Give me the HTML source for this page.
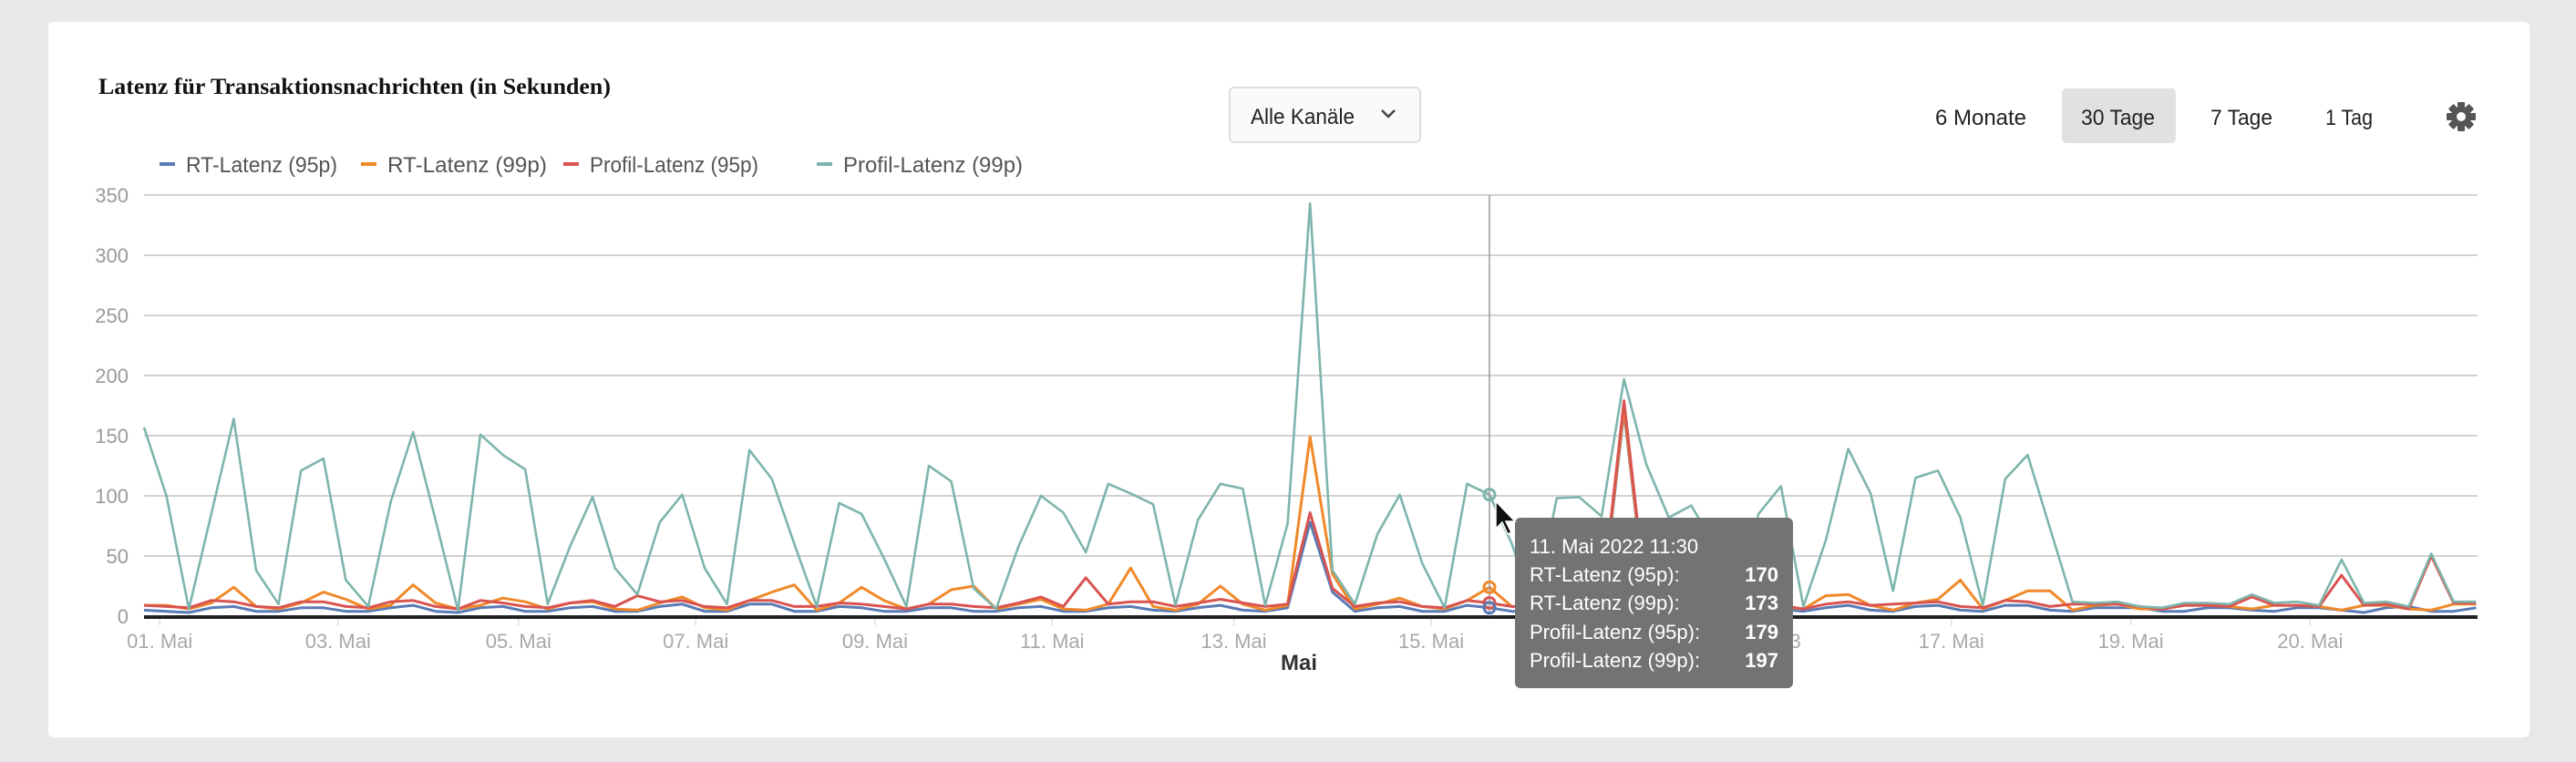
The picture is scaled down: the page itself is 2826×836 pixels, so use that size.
<!DOCTYPE html>
<html><head><meta charset="utf-8">
<style>
html,body{margin:0;padding:0;background:#e8e8e8;}
body{width:2826px;height:836px;position:relative;overflow:hidden;font-family:"Liberation Sans",sans-serif;}
#card{position:absolute;left:53px;top:24px;width:2722px;height:785px;background:#fff;border-radius:6px;}
svg{position:absolute;left:0;top:0;}
</style></head>
<body>
<div id="card"></div>
<svg id="chart" width="2826" height="836">
  <text x="108" y="103" font-family="Liberation Serif, serif" font-weight="bold" font-size="25" fill="#111" textLength="562" lengthAdjust="spacingAndGlyphs">Latenz für Transaktionsnachrichten (in Sekunden)</text>

  <g>
    <rect x="1349" y="96" width="209" height="60" rx="5" fill="#fafafa" stroke="#ddd" stroke-width="2"/>
    <text x="1372" y="136" font-size="24" fill="#222" textLength="114" lengthAdjust="spacingAndGlyphs">Alle Kanäle</text>
    <path d="M1516 121 l7 7 l7 -7" fill="none" stroke="#444" stroke-width="2.5"/>
  </g>

  <g><text x="2123" y="137" font-size="24" fill="#222" textLength="100" lengthAdjust="spacingAndGlyphs">6 Monate</text></g>
  <g><rect x="2262" y="97" width="125" height="60" rx="5" fill="#e1e1e1"/><text x="2283" y="137" font-size="24" fill="#222" textLength="81" lengthAdjust="spacingAndGlyphs">30 Tage</text></g>
  <g><text x="2425" y="137" font-size="24" fill="#222" textLength="68" lengthAdjust="spacingAndGlyphs">7 Tage</text></g>
  <g><text x="2551" y="137" font-size="24" fill="#222" textLength="52" lengthAdjust="spacingAndGlyphs">1 Tag</text></g>
  <g transform="translate(2700,128)">
    <g fill="#555">
      <rect x="-4" y="-16" width="8" height="32" rx="1"/>
      <rect x="-4" y="-16" width="8" height="32" rx="1" transform="rotate(45)"/>
      <rect x="-4" y="-16" width="8" height="32" rx="1" transform="rotate(90)"/>
      <rect x="-4" y="-16" width="8" height="32" rx="1" transform="rotate(135)"/>
      <circle r="11"/>
    </g>
    <circle r="5" fill="#fff"/>
  </g>

  <g id="legend"></g>
  <g id="grid"></g>
  <g id="xlabels"></g>
  <g id="series"></g>
  <g id="hover"></g>

  <g>
    <rect x="1662" y="568" width="305" height="187" rx="6" fill="#737373"/>
    <text x="1678" y="607" font-size="22" fill="#fff">11. Mai 2022 11:30</text>
    <text x="1678" y="638" font-size="22" fill="#fff">RT-Latenz (95p):</text>
    <text x="1951" y="638" font-size="22" fill="#fff" font-weight="bold" text-anchor="end">170</text>
    <text x="1678" y="669" font-size="22" fill="#fff">RT-Latenz (99p):</text>
    <text x="1951" y="669" font-size="22" fill="#fff" font-weight="bold" text-anchor="end">173</text>
    <text x="1678" y="701" font-size="22" fill="#fff">Profil-Latenz (95p):</text>
    <text x="1951" y="701" font-size="22" fill="#fff" font-weight="bold" text-anchor="end">179</text>
    <text x="1678" y="732" font-size="22" fill="#fff">Profil-Latenz (99p):</text>
    <text x="1951" y="732" font-size="22" fill="#fff" font-weight="bold" text-anchor="end">197</text>
  </g>
  <path d="M1641 550 l0 30 l7 -7 l6 13 l4 -2 l-6 -12 l10 0 z" fill="#111" stroke="#fff" stroke-width="1.5"/>
</svg>
<script>
const seriesNames = ["RT-Latenz (95p)","RT-Latenz (99p)","Profil-Latenz (95p)","Profil-Latenz (99p)"];
const seriesColors = ["#5a7bb5","#f0892a","#d95450","#7db5ad"];
const yTicks = [0,50,100,150,200,250,300,350];
const xTickLabels = ["01. Mai","03. Mai","05. Mai","07. Mai","09. Mai","11. Mai","13. Mai","15. Mai","13","17. Mai","19. Mai","20. Mai"];
const xTickIndex = [0.7,8.65,16.7,24.6,32.6,40.5,48.6,57.4,73.4,80.6,88.6,96.6];
const rt95 = [5,4,3,7,8,4,4,7,7,4,4,7,9,4,3,7,8,4,4,7,8,4,4,8,10,4,4,10,
 10,4,4,8,7,4,4,7,7,4,4,7,8,4,4,7,8,5,4,7,9,5,4,7,78,20,4,7,
 8,4,4,9,7,4,4,6,7,7,170,8,7,6,5,6,7,6,4,7,9,5,4,8,9,5,4,9,
 9,5,4,7,7,7,4,4,7,7,5,4,7,7,5,3,7,8,4,4,7];
const rt99 = [9,9,6,11,24,8,6,11,20,14,6,9,26,11,6,9,15,12,6,11,12,6,5,11,16,7,5,13,
 20,26,5,11,24,13,6,10,22,25,6,10,14,6,5,10,40,8,5,10,25,10,5,9,149,35,6,10,
 15,8,6,13,24,8,7,8,9,10,173,10,9,8,7,8,9,8,6,17,18,9,5,11,14,30,6,13,
 21,21,5,9,10,6,6,9,9,8,6,9,9,8,5,9,9,6,5,10,10];
const pr95 = [9,8,7,13,12,8,7,12,12,8,7,12,13,8,6,13,11,8,7,11,13,8,17,12,13,8,7,13,
 13,8,8,11,10,8,6,10,10,8,7,11,16,8,32,10,12,12,8,11,14,11,8,10,86,23,8,11,
 12,8,7,13,11,8,8,9,10,10,179,12,9,9,8,9,9,9,6,10,12,9,10,11,12,8,7,13,
 12,8,10,10,10,8,6,9,9,8,16,9,9,8,34,9,10,6,50,11,11];
const pr99 = [157,100,6,85,164,38,10,121,131,30,8,95,153,80,5,151,134,122,10,58,99,40,18,78,101,40,10,138,
 114,60,8,94,85,48,8,125,112,23,6,58,100,86,53,110,102,93,9,80,110,106,9,77,343,38,10,68,
 101,44,7,110,101,60,5,98,99,83,197,126,82,92,60,20,85,108,8,63,139,102,21,115,121,82,9,114,
 134,73,12,11,12,8,7,11,11,10,18,11,12,9,47,11,12,8,52,12,12];
const hoverIndex = 60;

const NS = "http://www.w3.org/2000/svg";
const X0 = 158, DX = 24.6, Y0 = 676, KY = 1.32, XR = 2718;
function xs(i){ return X0 + i*DX; }
function ys(v){ return Y0 - v*KY; }
function mk(tag, attrs, parent){ const e=document.createElementNS(NS,tag); for(const k in attrs) e.setAttribute(k,attrs[k]); parent.appendChild(e); return e; }

const grid = document.getElementById('grid');
yTicks.forEach(t=>{
  if(t>0){
    const l = mk('line',{x1:158,x2:XR,y1:ys(t),y2:ys(t),stroke:'#d2d2d2','stroke-width':2},grid);
    
    
  }
  const tx = mk('text',{x:141,y:ys(t)+8,'font-size':22,fill:'#9a9a9a','text-anchor':'end'},grid);
  tx.textContent = t;
  
  
});

const xl = document.getElementById('xlabels');
xTickLabels.forEach((lab,k)=>{
  const x = xs(xTickIndex[k]);
  const tk = mk('line',{x1:x,x2:x,y1:Y0,y2:Y0+10,stroke:'#ddd','stroke-width':1.5},xl);
  
  
  const t = mk('text',{x:x,y:711,'font-size':22,fill:'#a8a8a8','text-anchor':'middle'},xl);
  t.textContent = lab;
  
  
});
const mai = mk('text',{x:1425,y:735,'font-size':24,'font-weight':'bold',fill:'#333','text-anchor':'middle'},xl);
mai.textContent = 'Mai';



const ser = document.getElementById('series');
const allSeries = [rt95, rt99, pr95, pr99];
const order = [0,1,2,3];
order.forEach(s=>{
  const pts = allSeries[s].map((v,i)=>xs(i).toFixed(1)+','+ys(v).toFixed(1)).join(' ');
  const p = mk('polyline',{points:pts,fill:'none',stroke:seriesColors[s],'stroke-width':s===3?2.6:3,'stroke-linejoin':'round'},ser);
  
  
});
const base = mk('line',{x1:158,x2:XR,y1:Y0+1,y2:Y0+1,stroke:'#222','stroke-width':4},ser);



const hv = document.getElementById('hover');
const hx = xs(hoverIndex);
const hl = mk('line',{x1:hx,x2:hx,y1:214,y2:Y0,stroke:'#999','stroke-width':1.5},hv);


[3,1,2,0].forEach(s=>{
  const c = mk('circle',{cx:hx,cy:ys(allSeries[s][hoverIndex]),r:6,fill:'none',stroke:seriesColors[s],'stroke-width':3},hv);
  
  
});

const lg = document.getElementById('legend');
const legX = [175,396,618,896];
const legW = [166,175,185,197];
seriesNames.forEach((n,s)=>{
  const g = mk('g',{},lg);
  
  
  mk('rect',{x:legX[s],y:178,width:17,height:4,fill:seriesColors[s]},g);
  const t = mk('text',{x:legX[s]+29,y:189,'font-size':24,fill:'#555',textLength:legW[s],lengthAdjust:'spacingAndGlyphs'},g);
  t.textContent = n;
});
</script>
</body></html>
